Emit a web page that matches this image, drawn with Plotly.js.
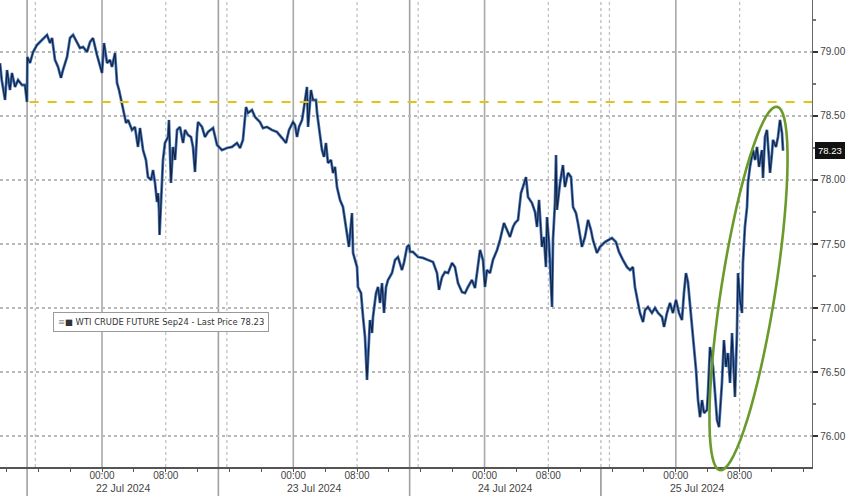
<!DOCTYPE html>
<html>
<head>
<meta charset="utf-8">
<script src="https://cdn.plot.ly/plotly-3.0.1.min.js"></script>
<style>html,body{margin:0;padding:0;background:#fff;}#chart{width:848px;height:496px;}</style>
</head>
<body>
<div id="chart"></div>
<script>
// ---- DATA ----
const times = [
"2024-07-21 11:12","2024-07-21 11:25","2024-07-21 11:50","2024-07-21 12:05","2024-07-21 12:27","2024-07-21 12:42","2024-07-21 13:05","2024-07-21 13:28","2024-07-21 13:58","2024-07-21 14:20","2024-07-21 14:35","2024-07-21 14:38","2024-07-21 14:58","2024-07-21 15:21","2024-07-21 15:51","2024-07-21 16:13","2024-07-21 16:36","2024-07-21 17:06","2024-07-21 17:29","2024-07-21 17:44","2024-07-21 18:06","2024-07-21 18:29","2024-07-21 18:51","2024-07-21 19:06","2024-07-21 19:37","2024-07-21 19:59","2024-07-21 20:22","2024-07-21 20:52","2024-07-21 21:14","2024-07-21 21:37","2024-07-21 22:07","2024-07-21 22:30","2024-07-21 22:52","2024-07-21 23:22","2024-07-21 23:45",
"2024-07-22 00:00","2024-07-22 00:15","2024-07-22 00:38","2024-07-22 01:00","2024-07-22 01:15","2024-07-22 01:38","2024-07-22 01:53","2024-07-22 02:08","2024-07-22 02:31","2024-07-22 02:46","2024-07-22 03:01","2024-07-22 03:16","2024-07-22 03:46","2024-07-22 04:08","2024-07-22 04:31","2024-07-22 04:46","2024-07-22 05:09","2024-07-22 05:31","2024-07-22 05:46","2024-07-22 06:09","2024-07-22 06:24","2024-07-22 06:39","2024-07-22 06:54","2024-07-22 07:02","2024-07-22 07:09","2024-07-22 07:13","2024-07-22 07:24","2024-07-22 07:39","2024-07-22 07:54","2024-07-22 08:17","2024-07-22 08:24","2024-07-22 08:39","2024-07-22 08:54","2024-07-22 09:10","2024-07-22 09:25","2024-07-22 09:47","2024-07-22 10:10","2024-07-22 10:25","2024-07-22 10:47","2024-07-22 11:10","2024-07-22 11:25","2024-07-22 11:40","2024-07-22 11:55","2024-07-22 12:03","2024-07-22 12:33","2024-07-22 12:55","2024-07-22 13:18","2024-07-22 13:56","2024-07-22 14:26","2024-07-22 15:03","2024-07-22 15:41","2024-07-22 16:19","2024-07-22 16:56","2024-07-22 17:19","2024-07-22 17:41","2024-07-22 18:04","2024-07-22 18:19","2024-07-22 18:49","2024-07-22 19:12","2024-07-22 19:49","2024-07-22 20:12","2024-07-22 20:42","2024-07-22 21:20","2024-07-22 21:57","2024-07-22 22:35","2024-07-22 23:05","2024-07-22 23:28","2024-07-22 23:58",
"2024-07-23 00:13","2024-07-23 00:28","2024-07-23 00:43","2024-07-23 01:06","2024-07-23 01:21","2024-07-23 01:43","2024-07-23 01:51","2024-07-23 02:13","2024-07-23 02:28","2024-07-23 02:51","2024-07-23 02:59","2024-07-23 03:21","2024-07-23 03:36","2024-07-23 03:51","2024-07-23 04:06","2024-07-23 04:21","2024-07-23 04:44","2024-07-23 04:59","2024-07-23 05:14","2024-07-23 05:29","2024-07-23 05:52","2024-07-23 06:14","2024-07-23 06:29","2024-07-23 06:44","2024-07-23 06:59","2024-07-23 07:22","2024-07-23 07:30","2024-07-23 07:45","2024-07-23 08:00","2024-07-23 08:07","2024-07-23 08:30","2024-07-23 08:45","2024-07-23 09:00","2024-07-23 09:15","2024-07-23 09:22","2024-07-23 09:37","2024-07-23 09:53","2024-07-23 10:00","2024-07-23 10:23","2024-07-23 10:38","2024-07-23 10:53","2024-07-23 11:08","2024-07-23 11:23","2024-07-23 11:38","2024-07-23 11:53","2024-07-23 12:23","2024-07-23 12:46","2024-07-23 13:08","2024-07-23 13:38","2024-07-23 13:53","2024-07-23 14:16","2024-07-23 14:31","2024-07-23 14:39","2024-07-23 15:01","2024-07-23 15:39","2024-07-23 16:16","2024-07-23 16:54","2024-07-23 17:32","2024-07-23 18:02","2024-07-23 18:17","2024-07-23 18:40","2024-07-23 19:02","2024-07-23 19:25","2024-07-23 19:55","2024-07-23 20:17","2024-07-23 20:40","2024-07-23 21:10","2024-07-23 21:33","2024-07-23 21:55","2024-07-23 22:25","2024-07-23 22:48","2024-07-23 23:11","2024-07-23 23:26","2024-07-23 23:48",
"2024-07-24 00:03","2024-07-24 00:18","2024-07-24 00:41","2024-07-24 01:03","2024-07-24 01:34","2024-07-24 01:56","2024-07-24 02:26","2024-07-24 02:49","2024-07-24 03:11","2024-07-24 03:34","2024-07-24 03:49","2024-07-24 04:12","2024-07-24 04:34","2024-07-24 04:49","2024-07-24 05:12","2024-07-24 05:27","2024-07-24 05:57","2024-07-24 06:20","2024-07-24 06:35","2024-07-24 06:50","2024-07-24 07:12","2024-07-24 07:27","2024-07-24 07:42","2024-07-24 07:50","2024-07-24 08:05","2024-07-24 08:28","2024-07-24 08:35","2024-07-24 08:50","2024-07-24 08:58","2024-07-24 09:05","2024-07-24 09:28","2024-07-24 09:50","2024-07-24 10:05","2024-07-24 10:28","2024-07-24 10:51","2024-07-24 11:06","2024-07-24 11:28","2024-07-24 11:43","2024-07-24 12:13","2024-07-24 12:36","2024-07-24 12:59","2024-07-24 13:21","2024-07-24 13:36","2024-07-24 14:06","2024-07-24 14:29","2024-07-24 15:07","2024-07-24 15:29","2024-07-24 15:59","2024-07-24 16:29","2024-07-24 16:52","2024-07-24 17:22","2024-07-24 17:52","2024-07-24 18:15","2024-07-24 18:37","2024-07-24 18:52","2024-07-24 19:07","2024-07-24 19:30","2024-07-24 19:53","2024-07-24 20:08","2024-07-24 20:30","2024-07-24 21:00","2024-07-24 21:23","2024-07-24 21:46","2024-07-24 22:16","2024-07-24 22:31","2024-07-24 22:53","2024-07-24 23:16","2024-07-24 23:38",
"2024-07-25 00:01","2024-07-25 00:24","2024-07-25 00:46","2024-07-25 01:01","2024-07-25 01:16","2024-07-25 01:31","2024-07-25 01:54","2024-07-25 02:09","2024-07-25 02:32","2024-07-25 02:47","2024-07-25 03:02","2024-07-25 03:17","2024-07-25 03:32","2024-07-25 03:54","2024-07-25 04:02","2024-07-25 04:17","2024-07-25 04:40","2024-07-25 04:55","2024-07-25 05:10","2024-07-25 05:25","2024-07-25 05:47","2024-07-25 06:02","2024-07-25 06:17","2024-07-25 06:32","2024-07-25 06:48","2024-07-25 07:03","2024-07-25 07:10","2024-07-25 07:25","2024-07-25 07:40","2024-07-25 07:48","2024-07-25 08:03","2024-07-25 08:18","2024-07-25 08:25","2024-07-25 08:40","2024-07-25 08:56","2024-07-25 09:03","2024-07-25 09:18","2024-07-25 09:41","2024-07-25 09:56","2024-07-25 10:11","2024-07-25 10:26","2024-07-25 10:48","2024-07-25 10:56","2024-07-25 11:11","2024-07-25 11:26","2024-07-25 11:34","2024-07-25 11:49","2024-07-25 12:04","2024-07-25 12:11","2024-07-25 12:34","2024-07-25 12:49","2024-07-25 13:04","2024-07-25 13:19","2024-07-25 13:27"
];
const prices = [
78.912,78.781,78.625,78.859,78.703,78.836,78.727,78.781,78.742,78.742,78.609,78.961,78.914,79.000,79.055,79.078,79.094,79.133,79.070,79.109,78.938,78.883,78.797,78.859,78.961,79.109,79.133,79.078,79.031,79.039,79.000,79.078,79.109,78.977,78.898,
78.836,79.070,78.914,78.938,78.883,78.992,78.758,78.703,78.602,78.523,78.445,78.469,78.391,78.414,78.258,78.406,78.234,78.156,78.023,78.000,78.078,77.977,77.828,77.898,77.766,77.570,77.789,78.156,78.289,78.336,78.469,77.977,78.258,78.156,78.391,78.414,78.289,78.391,78.352,78.336,78.258,78.062,78.367,78.453,78.414,78.336,78.375,78.406,78.273,78.234,78.250,78.258,78.289,78.250,78.313,78.570,78.523,78.547,78.492,78.453,78.406,78.414,78.391,78.375,78.328,78.289,78.391,78.453,
78.430,78.336,78.414,78.469,78.570,78.727,78.414,78.703,78.625,78.625,78.523,78.367,78.234,78.180,78.289,78.133,78.156,78.055,78.102,77.945,77.844,77.789,77.688,77.586,77.477,77.742,77.430,77.375,77.320,77.164,77.117,76.930,76.773,76.438,76.594,76.906,76.805,76.930,77.117,77.164,77.039,77.195,76.961,77.164,77.219,77.273,77.375,77.398,77.297,77.352,77.477,77.492,77.438,77.438,77.398,77.391,77.375,77.359,77.273,77.141,77.242,77.281,77.273,77.352,77.320,77.195,77.125,77.117,77.164,77.219,77.156,77.352,77.453,77.375,
77.164,77.297,77.273,77.375,77.453,77.531,77.664,77.609,77.555,77.633,77.664,77.688,77.898,77.945,78.023,77.867,77.820,77.750,77.633,77.844,77.477,77.555,77.320,77.711,77.508,77.008,77.531,77.820,78.195,77.766,77.977,78.117,77.945,78.055,78.023,77.789,77.742,77.664,77.477,77.555,77.688,77.609,77.531,77.430,77.477,77.516,77.531,77.547,77.516,77.438,77.375,77.320,77.297,77.320,77.164,77.086,76.961,76.891,76.984,77.008,76.961,77.000,76.961,76.930,76.852,76.961,77.039,76.961,
77.063,76.961,76.906,77.117,77.273,77.203,76.961,76.750,76.516,76.281,76.148,76.281,76.180,76.203,76.336,76.695,76.539,76.336,76.125,76.070,76.414,76.750,76.539,76.648,76.414,76.805,76.648,76.305,76.805,77.273,77.063,76.961,77.352,77.633,77.789,77.977,78.102,78.234,78.156,78.258,78.102,78.234,78.016,78.336,78.391,78.289,78.055,78.211,78.313,78.258,78.336,78.469,78.367,78.230
];
const lastPrice = 78.23;
const refLevel = 78.61;
const seriesName = "WTI CRUDE FUTURE Sep24 - Last Price 78.23";
const yTickVals = [76.0, 76.5, 77.0, 77.5, 78.0, 78.5, 79.0];
const yTickText = ["76.00","76.50","77.00","77.50","78.00","78.50","79.00"];
const xTickVals = ["2024-07-21 12:00","2024-07-21 16:00","2024-07-21 20:00","2024-07-22 00:00","2024-07-22 04:00","2024-07-22 08:00","2024-07-22 12:00","2024-07-22 16:00","2024-07-22 20:00","2024-07-23 00:00","2024-07-23 04:00","2024-07-23 08:00","2024-07-23 12:00","2024-07-23 16:00","2024-07-23 20:00","2024-07-24 00:00","2024-07-24 04:00","2024-07-24 08:00","2024-07-24 12:00","2024-07-24 16:00","2024-07-24 20:00","2024-07-25 00:00","2024-07-25 04:00","2024-07-25 08:00","2024-07-25 12:00","2024-07-25 16:00"];
const xTickText = ["","","","00:00","","08:00","","","","00:00","","08:00","","","","00:00","","08:00","","","","00:00","","08:00","",""];
const dayLabels = ["22 Jul 2024","23 Jul 2024","24 Jul 2024","25 Jul 2024"];
const dayLabelPos = ["2024-07-22 02:36","2024-07-23 02:36","2024-07-24 02:36","2024-07-25 02:36"];
const midnights = ["2024-07-22 00:00","2024-07-23 00:00","2024-07-24 00:00","2024-07-25 00:00"];
const sessionBreaks = ["2024-07-21 14:36","2024-07-22 14:36","2024-07-23 14:36","2024-07-24 14:36"];
const dottedTimes = ["2024-07-21 15:38","2024-07-22 08:00","2024-07-22 15:40","2024-07-23 08:00","2024-07-23 15:40","2024-07-24 08:00","2024-07-24 15:40","2024-07-25 08:00"];

// ---- LAYOUT HELPERS ----
const W = 812, H = 467;  // plot area in px
const FONT = 'Liberation Sans, Arial, sans-serif';
const shapes = [];
midnights.forEach(t => shapes.push({type:'line', xref:'x', yref:'paper', x0:t, x1:t, y0:0, y1:1, line:{color:'#a9a9a9', width:1.6}, layer:'below'}));
sessionBreaks.forEach((t,i) => {
  if (i < 3) shapes.push({type:'line', xref:'x', yref:'paper', x0:t, x1:t, y0:-29/H, y1:1, line:{color:'#a0a0a0', width:1.6}, layer:'below'});
  else {
    shapes.push({type:'line', xref:'x', yref:'paper', x0:t, x1:t, y0:0, y1:1, line:{color:'#b5b5b5', width:1.2, dash:'dot'}, layer:'below'});
    shapes.push({type:'line', xref:'x', yref:'paper', x0:t, x1:t, y0:-29/H, y1:0, line:{color:'#888', width:1.4}, layer:'below'});
  }
});
dottedTimes.forEach(t => shapes.push({type:'line', xref:'x', yref:'paper', x0:t, x1:t, y0:0, y1:1, line:{color:'#bdbdbd', width:1.2, dash:'dot'}, layer:'below'}));
// yellow reference level
shapes.push({type:'line', xref:'x', yref:'y', x0:'2024-07-21 14:55', x1:'2024-07-25 17:05', y0:refLevel, y1:refLevel, line:{color:'#e3c21c', width:2, dash:'dash'}});
// green tilted ellipse (highlight)
(function(){
  const cx = 748.5, cy = 288.5, a = 184, b = 27;
  const ux = 0.1551, uy = -0.9879, vx = 0.9879, vy = 0.1551;
  let p = '';
  for (let k = 0; k <= 72; k++) {
    const th = 2*Math.PI*k/72;
    const px = cx + a*Math.cos(th)*ux + b*Math.sin(th)*vx;
    const py = cy + a*Math.cos(th)*uy + b*Math.sin(th)*vy;
    p += (k === 0 ? 'M' : 'L') + (px/W).toFixed(5) + ',' + (1 - py/H).toFixed(5);
  }
  p += 'Z';
  shapes.push({type:'path', xref:'paper', yref:'paper', path:p, line:{color:'#6b9a2c', width:2.6}});
})();

const annotations = [];
dayLabels.forEach((txt,i) => annotations.push({xref:'x', yref:'paper', x:dayLabelPos[i], y:-21.5/H, yanchor:'middle', xanchor:'center', text:txt, showarrow:false, font:{family:FONT, size:10.5, color:'#444'}}));
annotations.push({xref:'paper', yref:'y', x:1, xshift:3, xanchor:'left', y:lastPrice, yanchor:'middle', text:lastPrice.toFixed(2), showarrow:false, bgcolor:'#111', bordercolor:'#111', borderpad:2, font:{family:FONT, size:9.5, color:'#fff'}});
annotations.push({xref:'paper', yref:'paper', x:53/W, y:1-322/H, xanchor:'left', yanchor:'middle', align:'left',
  text:'<span style="color:#999">≡</span>■ ' + seriesName, showarrow:false, bgcolor:'#fff', bordercolor:'#9a9a9a', borderwidth:1, borderpad:4,
  font:{family:'DejaVu Sans, Verdana, sans-serif', size:8.4, color:'#333'}});

const traces = [
  {x: times, y: prices, type:'scatter', mode:'lines', line:{color:'#4577c2', width:2.8}, hoverinfo:'skip', showlegend:false},
  {x: times, y: prices, type:'scatter', mode:'lines', line:{color:'#18243b', width:1.2}, name: seriesName, showlegend:false}
];

const layout = {
  width: 848, height: 496,
  margin: {l:0, r:36, t:0, b:29, pad:0},
  paper_bgcolor:'#fff', plot_bgcolor:'#fff',
  showlegend:false,
  font:{family:FONT, size:10, color:'#444'},
  xaxis: {type:'date', range:['2024-07-21 11:12','2024-07-25 17:05'], tickmode:'array', tickvals:xTickVals, ticktext:xTickText,
          ticks:'outside', ticklen:3, tickcolor:'#555', ticklabelstandoff:-5, showgrid:false, zeroline:false, showline:true, linecolor:'#555', linewidth:1.5,
          tickfont:{size:10, color:'#444'}, fixedrange:true},
  yaxis: {side:'right', range:[75.758, 79.406], tickmode:'array', tickvals:yTickVals, ticktext:yTickText,
          ticks:'outside', ticklen:5, tickwidth:1.5, tickcolor:'#333', showline:true, linecolor:'#666', linewidth:1.2,
          showgrid:true, gridcolor:'#b8b8b8', griddash:'dot', gridwidth:1.2, zeroline:false,
          minor:{dtick:0.25, tick0:76, ticks:'outside', ticklen:3, tickcolor:'#777', showgrid:false},
          tickfont:{size:10, color:'#444'}, fixedrange:true},
  shapes: shapes,
  annotations: annotations
};

Plotly.newPlot('chart', traces, layout, {displayModeBar:false, staticPlot:true});
</script>
</body>
</html>
